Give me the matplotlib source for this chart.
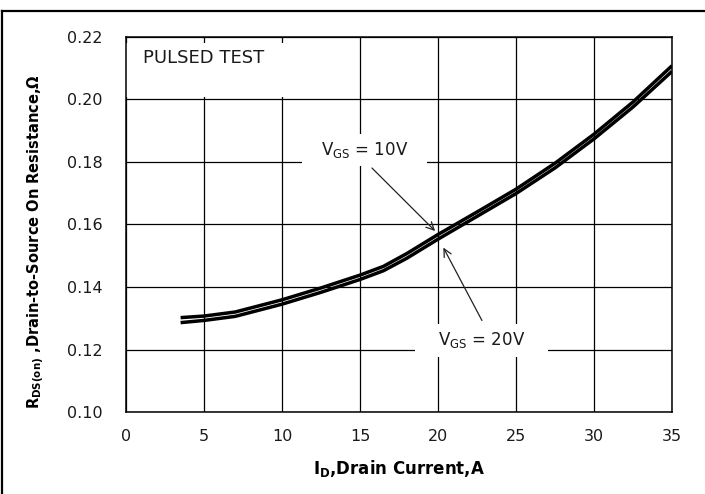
import matplotlib
matplotlib.use("Agg")
import matplotlib.pyplot as plt
from matplotlib.patches import Rectangle
from matplotlib.lines import Line2D

# ---- data ----
drain_current = [3.5, 5, 7, 10, 12.5, 15, 16.5, 18, 20, 22.5, 25, 27.5, 30, 32.5, 35]
rds_vgs10 = [0.1302, 0.1307, 0.1320, 0.1359, 0.1397, 0.1438, 0.1466, 0.1507, 0.1568,
             0.1640, 0.1713, 0.1796, 0.1889, 0.1992, 0.2108]
rds_vgs20 = [0.1286, 0.1293, 0.1306, 0.1345, 0.1383, 0.1424, 0.1452, 0.1492, 0.1553,
             0.1626, 0.1699, 0.1781, 0.1874, 0.1976, 0.2090]
x_ticks = [0, 5, 10, 15, 20, 25, 30, 35]
y_ticks = [0.10, 0.12, 0.14, 0.16, 0.18, 0.20, 0.22]
y_tick_labels = ["0.10", "0.12", "0.14", "0.16", "0.18", "0.20", "0.22"]

plt.rcParams["font.family"] = ["DejaVu Sans"]
plt.rcParams["mathtext.fontset"] = "dejavusans"

W, H = 705, 494
fig = plt.figure(figsize=(W / 100, H / 100), dpi=100)
ax = fig.add_axes([126 / W, (H - 412) / H, (672 - 126) / W, (412 - 37) / H])

ax.set_xlim(0, 35)
ax.set_ylim(0.10, 0.22)
ax.set_xticks(x_ticks)
ax.set_yticks(y_ticks)
ax.set_yticklabels(y_tick_labels)
ax.tick_params(length=0, labelsize=11.5, labelcolor="#1a1a1a")
ax.tick_params(axis="x", pad=12)
ax.tick_params(axis="y", pad=17)
ax.grid(True, color="black", linewidth=0.9)
ax.set_axisbelow(True)
for s in ax.spines.values():
    s.set_linewidth(1.1)
    s.set_zorder(5)

# white boxes behind labels (breaking the grid)
for (x0, y0, w, h) in [(0.0, 0.2008, 11.5, 0.0172),
                       (11.28, 0.1787, 8.02, 0.0102),
                       (18.5, 0.1176, 8.55, 0.0106)]:
    ax.add_patch(Rectangle((x0, y0), w, h, facecolor="white", edgecolor="none", zorder=1))

ax.plot(drain_current, rds_vgs10, color="black", linewidth=2.5, zorder=3, solid_capstyle="butt")
ax.plot(drain_current, rds_vgs20, color="black", linewidth=2.5, zorder=3, solid_capstyle="butt")

ax.text(1.1, 0.2133, "PULSED TEST", fontsize=13, color="#1a1a1a", va="center", ha="left", zorder=4)
ax.text(15.3, 0.1840, r"V$_{\mathregular{GS}}$ = 10V", fontsize=12, color="#1a1a1a",
        va="center", ha="center", zorder=4)
ax.text(22.8, 0.1230, r"V$_{\mathregular{GS}}$ = 20V", fontsize=12, color="#1a1a1a",
        va="center", ha="center", zorder=4)

ax.annotate("", xy=(19.94, 0.1573), xytext=(15.64, 0.1787),
            arrowprops=dict(arrowstyle="->", color="#222222", lw=0.9, mutation_scale=14), zorder=4)
ax.annotate("", xy=(20.26, 0.1534), xytext=(22.9, 0.1285),
            arrowprops=dict(arrowstyle="->", color="#222222", lw=0.9, mutation_scale=14), zorder=4)

ax.set_xlabel(r"I$_{\mathbf{D}}$,Drain Current,A", fontsize=12, fontweight="bold")
ax.set_ylabel(r"R$_{\mathbf{DS(on)}}$ ,Drain-to-Source On Resistance,Ω", fontsize=10.5, fontweight="bold")
ax.xaxis.set_label_coords(0.5, -0.123)
ax.yaxis.set_label_coords(-0.145, 0.453)

# outer frame (top and left edges visible)
fig.add_artist(Line2D([2 / W, 2 / W], [0, (H - 11) / H], transform=fig.transFigure,
                      color="black", linewidth=1.6))
fig.add_artist(Line2D([2 / W, 1], [(H - 11) / H, (H - 11) / H], transform=fig.transFigure,
                      color="black", linewidth=1.6))

fig.savefig("out.png", dpi=100)
